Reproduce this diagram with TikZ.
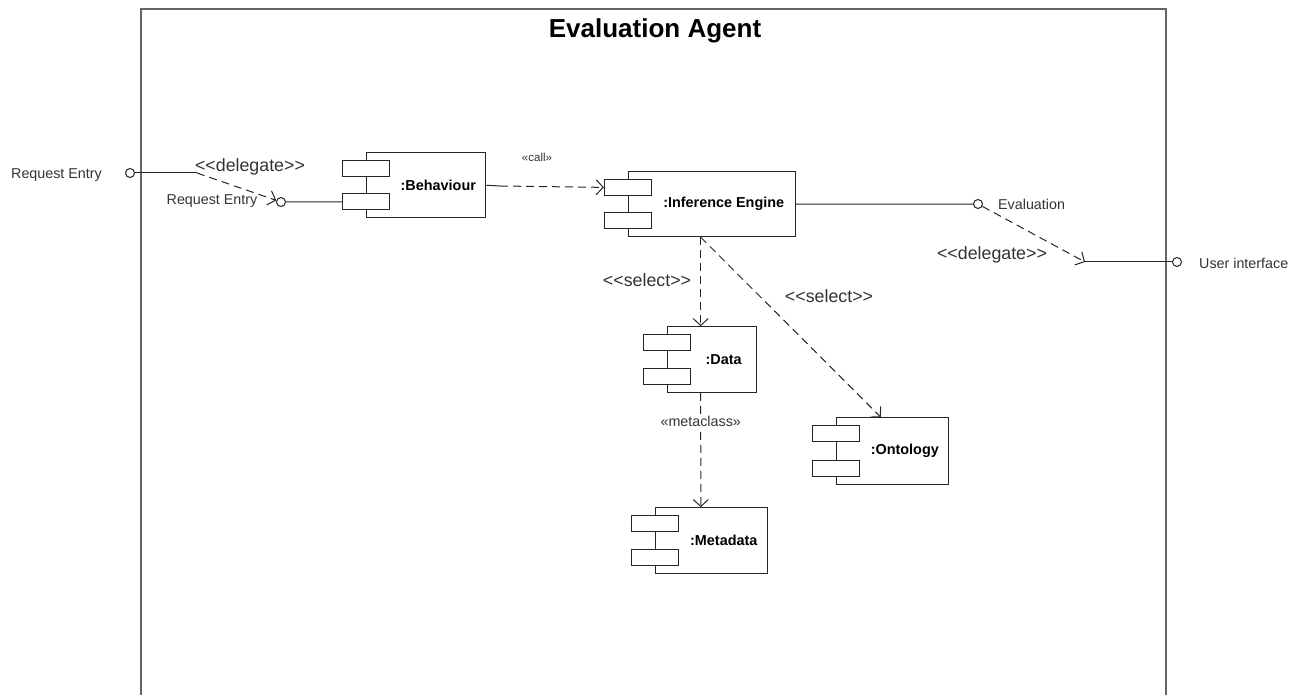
\documentclass[tikz,border=0pt]{standalone}
\usepackage{fontspec}
\setmainfont{Liberation Sans}
\usetikzlibrary{arrows.meta,calc}
\newcommand\dlt{\mbox{<}\mbox{<}}
\newcommand\dgt{\mbox{>}\mbox{>}}
\begin{document}
\begin{tikzpicture}[x=1pt,y=-1pt,
  comp/.style={draw=black!85, line width=1pt, inner sep=0},
  port/.style={draw=black!85, line width=1pt, fill=white, minimum width=47pt, minimum height=16pt, inner sep=0},
  lbl/.style={font=\fontsize{14.4}{16}\selectfont\bfseries, inner sep=0},
  txt/.style={font=\fontsize{14.3}{16}\selectfont, inner sep=1pt, text=black!80},
  small/.style={font=\fontsize{11.5}{13}\selectfont, inner sep=1pt, text=black!80},
  big/.style={font=\fontsize{17.8}{20}\selectfont, inner sep=1pt, text=black!80},
  iface/.style={circle, draw=black!85, line width=1pt, minimum size=9pt, inner sep=0, fill=white},
  wire/.style={draw=black!85, line width=1pt},
  dep/.style={wire, dash pattern=on 8pt off 5pt, -{Straight Barb[length=7pt,width=15pt]}},
]
\useasboundingbox (0,0) rectangle (1307,695);
% frame
\draw[black!60, line width=2pt] (141,700) -- (141,9) -- (1166,9) -- (1166,700);
\node[font=\fontsize{26}{30}\selectfont\bfseries, inner sep=0] (title) at (655,31) {Evaluation Agent};

% components
\node[comp, minimum width=119.3pt, minimum height=65.3pt] (beh) at (426.3,185.3) {};
\node[comp, minimum width=166.7pt, minimum height=65pt] (ie) at (711.7,204.2) {};
\node[comp, minimum width=88.7pt, minimum height=65.6pt] (data) at (711.7,359.5) {};
\node[comp, minimum width=111.7pt, minimum height=65.6pt] (meta) at (711.8,540.5) {};
\node[comp, minimum width=112.3pt, minimum height=66.6pt] (onto) at (892.8,451) {};
\foreach \n in {beh,ie,data,meta,onto}{
  \node[port, anchor=north] (\n-p1) at ([yshift=-8pt]\n.north west) {};
  \node[port, anchor=south] (\n-p2) at ([yshift=8pt]\n.south west) {};
}
\node[lbl] (beh-l) at ([xshift=12pt]beh.center) {:Behaviour};
\node[lbl] (ie-l) at ([xshift=12pt]ie.center) {:Inference Engine};
\node[lbl] (data-l) at ([xshift=12pt]data.center) {:Data};
\node[lbl] (meta-l) at ([xshift=12pt]meta.center) {:Metadata};
\node[lbl] (onto-l) at ([xshift=12pt]onto.center) {:Ontology};

% request entry delegation
\node[iface] (reo) at (130,173) {};
\node[txt, anchor=east] (reo-l) at (103,175) {Request Entry};
\coordinate (rebend) at (197,173);
\node[iface] (rei) at (281,202) {};
\node[txt] (rei-l) at (212,201) {Request Entry};
\draw[wire] (reo) -- (rebend);
\draw[dep] (rebend) -- (rei);
\draw[wire] (rei) -- (beh-p2);
\node[big] (dl1) at (250,167) {\dlt delegate\dgt};

% call
\coordinate (bstub) at (500,186);
\draw[wire] (beh.east) -- (bstub);
\draw[dep] (bstub) -- (ie-p1);
\node[small] (call) at (537,157) {«call»};

% evaluation delegation
\node[iface] (ev) at (978,204) {};
\draw[wire] (ie.east) -- (ev);
\node[txt, anchor=west] (ev-l) at (997,204) {Evaluation};
\coordinate (uiin) at (1085,262);
\draw[dep] (ev) -- (uiin);
\node[iface] (ui) at (1177,262) {};
\draw[wire] (uiin) -- (ui);
\node[txt, anchor=west] (ui-l) at (1198,263) {User interface};
\node[big] (dl2) at (992,255) {\dlt delegate\dgt};

% selects
\draw[dep] ([xshift=-11pt]ie.south) -- ([xshift=-11pt]data.north);
\draw[dep] ([xshift=-11pt]ie.south) -- ([xshift=-12pt]onto.north);
\node[big] (s1) at (647,280) {\dlt select\dgt};
\node[big] (s2) at (829,296) {\dlt select\dgt};

% metaclass
\draw[dep] ([xshift=-11pt]data.south) -- ([xshift=-11pt]meta.north)
  node[pos=0.25, fill=white, txt, inner sep=2pt] (mc) {«metaclass»};
\end{tikzpicture}
\end{document}
